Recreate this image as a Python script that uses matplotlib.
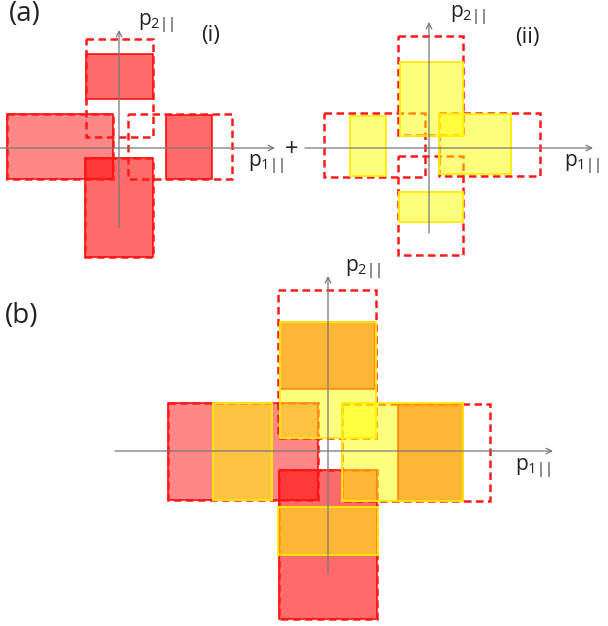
import matplotlib
matplotlib.use("Agg")
import matplotlib.pyplot as plt
from matplotlib.patches import Rectangle

plt.rcParams['font.family'] = ['Open Sans', 'DejaVu Sans']
plt.rcParams['mathtext.default'] = 'regular'

# panel origins in pixels (x, y) -- (i), (ii), (b)
origins = {"i": (119, 148), "ii": (429, 148), "b": (328, 451)}

# axis extents relative to origin: (left, right, bottom, top) in p units (y up)
axis_ext = {"i": (-119, 156, -80, 118), "ii": (-124, 164, -85, 126), "b": (-213, 225, -122, 175)}

# boxes given as (p1_min, p1_max, p2_min, p2_max)
# dashed boxes (allowed regions)
dashed_i = [(-33, 34, 11, 109), (-34, 34, -109, -10), (-112, -6, -31, 34), (9, 113, -31, 34)]
dashed_ii = [(-31, 34, 13, 112), (-31, 34, -107, -8), (-105, -4, -29, 35), (10, 111, -28, 35)]
dashed_b = [(-50, 48, 13, 161), (-49, 49, -168, -19), (-160, -10, -49, 48), (14, 162, -50, 47)]

# red filled boxes of term (i)
red_i = [(-33, 34, 49, 94), (-34, 34, -109, -10), (-112, -6, -31, 34), (47, 93, -31, 33)]
red_b = [(-48, 47, 62, 129), (-49, 49, -168, -19), (-160, -10, -49, 48), (70, 135, -50, 47)]
red_alpha = [0.58, 0.58, 0.47, 0.58]

# yellow filled boxes of term (ii)
yellow_ii = [(-29, 34, 12, 86), (-30, 34, -74, -44), (-79, -43, -28, 32), (10, 82, -26, 34)]
yellow_b = [(-48, 48, 13, 129), (-50, 50, -104, -56), (-115, -56, -49, 48), (14, 135, -50, 48)]

fig = plt.figure(figsize=(6.08, 6.26), dpi=100)
ax = fig.add_axes([0, 0, 1, 1])
ax.set_xlim(0, 608)
ax.set_ylim(626, 0)
ax.axis('off')


def box(key, b, **kw):
    ox, oy = origins[key]
    x0, x1, y0, y1 = b
    # p2 points up, pixel y points down
    ax.add_patch(Rectangle((ox + x0, oy - y1), x1 - x0, y1 - y0, **kw))


def draw_red(key, boxes):
    for b, a in zip(boxes, red_alpha):
        box(key, b, facecolor=(1, 0, 0, a), edgecolor=(1, 0, 0, 0.9), lw=1.2, zorder=2)


def draw_dashed(key, boxes):
    for b in boxes:
        box(key, b, facecolor='none', edgecolor='#ff1a1a', lw=1.8,
            linestyle=(0, (3.0, 1.8)), zorder=3)


def draw_yellow(key, boxes):
    for b in boxes:
        box(key, b, facecolor=(1, 1, 0, 0.5), edgecolor='#ffee00', lw=1.3, zorder=4)


def draw_axes(key):
    ox, oy = origins[key]
    l, r, bt, tp = axis_ext[key]
    arrow = dict(arrowstyle='->', color='#777777', lw=0.9, shrinkA=0, shrinkB=0)
    ax.annotate('', xy=(ox + r, oy), xytext=(ox + l, oy), arrowprops=arrow, zorder=6)
    ax.annotate('', xy=(ox, oy - tp), xytext=(ox, oy - bt), arrowprops=arrow, zorder=6)


# (a)(i)
draw_red("i", red_i)
draw_dashed("i", dashed_i)
draw_axes("i")

# (a)(ii)
draw_dashed("ii", dashed_ii)
draw_yellow("ii", yellow_ii)
draw_axes("ii")

# (b) sum of both
draw_red("b", red_b)
draw_dashed("b", dashed_b)
draw_yellow("b", yellow_b)
draw_axes("b")

# labels
txt = dict(color='#222222', ha='center', va='center', zorder=10)
ax.text(25, 14, '(a)', fontsize=20, **txt)
ax.text(22, 316, '(b)', fontsize=20, **txt)
ax.text(211, 35, '(i)', fontsize=16, **txt)
ax.text(527, 37, '(ii)', fontsize=16, **txt)
ax.text(292, 150, '+', fontsize=17, **txt)
ax.text(156, 24, r'$p_{2||}$', fontsize=15, **txt)
ax.text(266, 165, r'$p_{1||}$', fontsize=15, **txt)
ax.text(468, 16, r'$p_{2||}$', fontsize=15, **txt)
ax.text(582, 165, r'$p_{1||}$', fontsize=15, **txt)
ax.text(363, 270, r'$p_{2||}$', fontsize=15, **txt)
ax.text(533, 469, r'$p_{1||}$', fontsize=15, **txt)

fig.savefig('out.png', dpi=100)
